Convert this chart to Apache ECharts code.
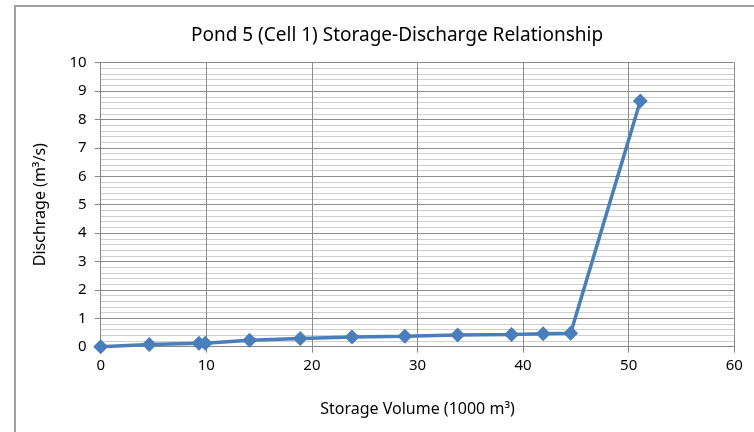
<!DOCTYPE html>
<html>
<head>
<meta charset="utf-8">
<script src="https://cdn.jsdelivr.net/npm/echarts@6/dist/echarts.min.js"></script>
<style>html,body{margin:0;padding:0;background:#fff;}#c{width:754px;height:432px;}</style>
</head>
<body>
<div id="c"></div>
<script>
const storageVolume = [0, 4.6, 9.3, 9.9, 14.1, 18.9, 23.8, 28.8, 33.8, 38.9, 41.9, 44.5, 51.1];
const discharge = [0, 0.08, 0.12, 0.12, 0.23, 0.29, 0.34, 0.37, 0.41, 0.43, 0.46, 0.47, 8.65];
const titleText = 'Pond 5 (Cell 1) Storage-Discharge Relationship';
const xAxisName = 'Storage Volume (1000 m³)';
const yAxisName = 'Dischrage (m³/s)';

const chart = echarts.init(document.getElementById('c'), null, {renderer: 'canvas'});
const font = '"Noto Sans", "Open Sans", sans-serif';
chart.setOption({
  animation: false,
  backgroundColor: '#fff',
  title: {
    text: titleText,
    left: 392, top: 21, textAlign: 'center',
    textStyle: {fontFamily: font, fontSize: 19, fontWeight: 'normal', color: '#000'}
  },
  graphic: [{
    type: 'rect', shape: {x: 15, y: 6, width: 800, height: 480},
    style: {fill: 'none', stroke: '#a0a0a0', lineWidth: 2}, silent: true, z: -1
  }],
  grid: {left: 100.7, right: 19.7, top: 62.7, bottom: 85.3},
  xAxis: {
    type: 'value', min: 0, max: 60, interval: 10,
    name: xAxisName, nameLocation: 'middle', nameGap: 55,
    nameTextStyle: {fontFamily: font, fontSize: 16, color: '#000'},
    axisLine: {show: true, lineStyle: {color: '#868686', width: 1}},
    axisTick: {show: true, length: 6, lineStyle: {color: '#868686'}},
    axisLabel: {fontFamily: font, fontSize: 15, color: '#000', margin: 12},
    splitLine: {show: true, lineStyle: {color: '#8c8c8c', width: 1}}
  },
  yAxis: {
    type: 'value', min: 0, max: 10, interval: 1,
    name: yAxisName, nameLocation: 'middle', nameGap: 52,
    nameTextStyle: {fontFamily: font, fontSize: 16, color: '#000'},
    axisLine: {show: true, lineStyle: {color: '#868686', width: 1}},
    axisTick: {show: true, length: 6, lineStyle: {color: '#868686'}},
    axisLabel: {fontFamily: font, fontSize: 15, color: '#000', margin: 14},
    splitLine: {show: true, lineStyle: {color: '#8c8c8c', width: 1}},
    minorTick: {show: false, splitNumber: 5},
    minorSplitLine: {show: true, lineStyle: {color: '#cfcfcf', width: 1}}
  },
  series: [{
    type: 'line',
    data: storageVolume.map((x, i) => [x, discharge[i]]),
    symbol: 'diamond', symbolSize: 15,
    itemStyle: {color: '#4a7ebb'},
    lineStyle: {color: '#4a7ebb', width: 3.5},
    z: 5
  }]
});
</script>
</body>
</html>
